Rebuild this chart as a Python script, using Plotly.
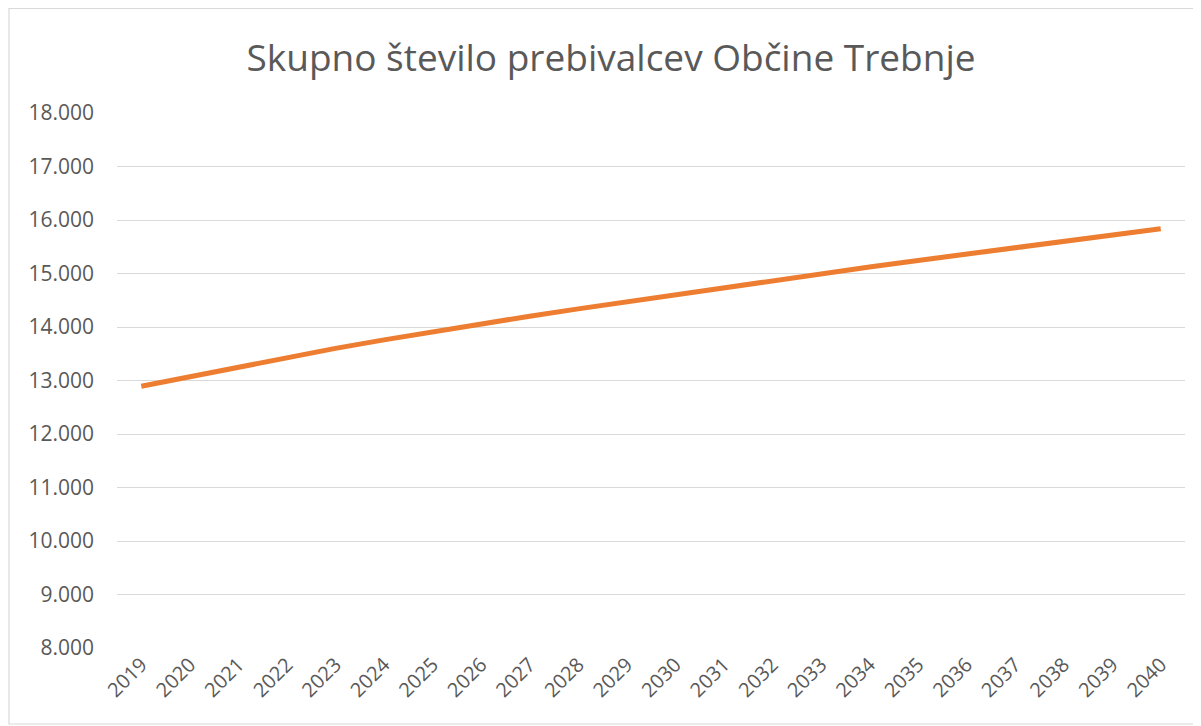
import plotly.graph_objects as go

years = [str(y) for y in range(2019, 2041)]
population = [12893, 13075, 13255, 13433, 13600, 13760, 13915, 14062, 14202, 14339,
              14473, 14604, 14734, 14864, 14993, 15122, 15244, 15364, 15484, 15603,
              15721, 15838]
y_ticks = [8000, 9000, 10000, 11000, 12000, 13000, 14000, 15000, 16000, 17000, 18000]

title_text = "Skupno število prebivalcev Občine Trebnje"

# page has an 8px body margin; figure sized so it fits the 1201x726 window
W, H = 1193, 718
L, R, T, B = 109, 16, 105, 78
pw, ph = W - L - R, H - T - B

fig = go.Figure()
fig.add_trace(go.Scatter(
    x=years, y=population, mode="lines",
    line=dict(color="#ED7D31", width=5),
    hoverinfo="x+y", showlegend=False,
))

def px_to_paper_x(px):
    return (px - L) / pw

def px_to_paper_y(py):
    return (H - B - py) / ph

fig.update_layout(
    width=W, height=H,
    margin=dict(l=L, r=R, t=T, b=B),
    paper_bgcolor="white", plot_bgcolor="white",
    separators=",.",
    font=dict(family="Open Sans, Calibri, sans-serif", color="#595959", size=18),
    title=dict(text=title_text, x=603 / W, xanchor="center", y=1 - 50 / H, yanchor="middle",
               font=dict(size=37, color="#595959")),
    xaxis=dict(type="category", range=[-0.5, len(years) - 0.5], tickangle=-45,
               showgrid=False, showline=False, zeroline=False, ticks="",
               tickfont=dict(size=20, color="#595959")),
    yaxis=dict(range=[8000, 18000], tickvals=y_ticks, tickformat=",d",
               showgrid=True, gridcolor="#D9D9D9", gridwidth=1.3,
               zeroline=False, showline=False, ticks="", ticklabelstandoff=22,
               tickfont=dict(size=21, color="#595959")),
    shapes=[dict(type="rect", xref="paper", yref="paper",
                 x0=px_to_paper_x(1), x1=px_to_paper_x(1191),
                 y0=px_to_paper_y(716), y1=px_to_paper_y(0.5),
                 line=dict(color="#D9D9D9", width=1.2), fillcolor="rgba(0,0,0,0)",
                 layer="below")],
)

fig.write_html("out.html")
